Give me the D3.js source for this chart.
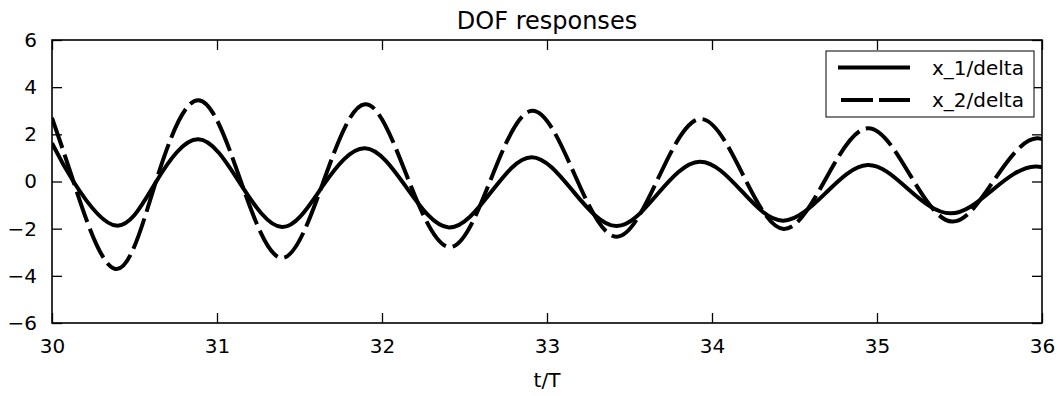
<!DOCTYPE html>
<html>
<head>
<meta charset="utf-8">
<script src="https://cdn.jsdelivr.net/npm/d3@7"></script>
<style>
body { margin: 0; background: #fff; }
text { font-family: "DejaVu Sans", sans-serif; fill: #000; }
</style>
</head>
<body>
<div id="main_div"></div>
<script>
// values (t/T, response); the last point lies just past the clipped edge
var t_x1 = [30.00, 30.13, 30.39, 30.63, 30.887, 31.14, 31.395, 31.64, 31.897, 32.15, 32.405, 32.66,
    32.907, 33.16, 33.42, 33.67, 33.925, 34.18, 34.43, 34.69, 34.943, 35.19, 35.445, 35.70, 35.96, 36.21];
var x1 = [1.63, 0.00, -1.87, -0.02, 1.79, -0.08, -1.93, -0.20, 1.41, -0.27, -1.95, -0.46,
    1.03, -0.43, -1.89, -0.53, 0.84, -0.41, -1.66, -0.48, 0.70, -0.33, -1.35, -0.36, 0.64, -0.30];

var t_x2 = [30.00, 30.13, 30.385, 30.63, 30.887, 31.14, 31.393, 31.645, 31.897, 32.15, 32.41, 32.66,
    32.91, 33.165, 33.42, 33.675, 33.93, 34.185, 34.435, 34.69, 34.945, 35.20, 35.455, 35.71, 35.97, 36.22];
var x2 = [2.70, 0.00, -3.71, 0.00, 3.45, 0.10, -3.24, 0.00, 3.28, 0.25, -2.78, 0.10,
    3.00, 0.33, -2.34, 0.15, 2.65, 0.32, -2.01, 0.12, 2.26, 0.28, -1.70, 0.06, 1.83, 0.20];

var x_ticks = [30, 31, 32, 33, 34, 35, 36];
var y_ticks = [-6, -4, -2, 0, 2, 4, 6];
var series_names = ["x_1/delta", "x_2/delta"];

var W = 1061, H = 396;
var x_scale = d3.scaleLinear().domain([30, 36]).range([52, 1042]);
var y_scale = d3.scaleLinear().domain([-6, 6]).range([323, 40]);

var svg = d3.select("#main_div").append("svg").attr("width", W).attr("height", H);

svg.append("clipPath").attr("id", "clip").append("rect")
    .attr("x", 52).attr("y", 40).attr("width", 990).attr("height", 283);

var line = d3.line()
    .x(function(d) { return x_scale(d[0]); })
    .y(function(d) { return y_scale(d[1]); })
    .curve(d3.curveNatural);

var g_lines = svg.append("g").attr("clip-path", "url(#clip)");
g_lines.append("path")
    .datum(d3.zip(t_x2, x2))
    .attr("d", line)
    .attr("fill", "none").attr("stroke", "#000").attr("stroke-width", 4)
    .attr("stroke-dasharray", "32,7");
g_lines.append("path")
    .datum(d3.zip(t_x1, x1))
    .attr("d", line)
    .attr("fill", "none").attr("stroke", "#000").attr("stroke-width", 4);

// axes, ticks pointing inward on all four sides
var tick_len = 10;
var g_x = svg.append("g").attr("transform", "translate(0,323)")
    .call(d3.axisBottom(x_scale).tickValues(x_ticks).tickSizeInner(-tick_len).tickSizeOuter(0).tickPadding(16)
        .tickFormat(d3.format("d")));
var g_xt = svg.append("g").attr("transform", "translate(0,40)")
    .call(d3.axisTop(x_scale).tickValues(x_ticks).tickSizeInner(-tick_len).tickSizeOuter(0).tickFormat(""));
var g_y = svg.append("g").attr("transform", "translate(52,0)")
    .call(d3.axisLeft(y_scale).tickValues(y_ticks).tickSizeInner(-tick_len).tickSizeOuter(0).tickPadding(15)
        .tickFormat(function(d) { return d < 0 ? "\u2212" + Math.abs(d) : d; }));
var g_yr = svg.append("g").attr("transform", "translate(1042,0)")
    .call(d3.axisRight(y_scale).tickValues(y_ticks).tickSizeInner(-tick_len).tickSizeOuter(0).tickFormat(""));

[g_x, g_xt, g_y, g_yr].forEach(function(g) {
    g.select(".domain").remove();
    g.selectAll(".tick line").attr("stroke", "#000").attr("stroke-width", 1.3);
    g.selectAll(".tick text").style("font-size", "20px").attr("fill", "#000");
});

svg.append("rect").attr("x", 52).attr("y", 40).attr("width", 990).attr("height", 283)
    .attr("fill", "none").attr("stroke", "#000").attr("stroke-width", 1.6);

svg.append("text").attr("x", 547).attr("y", 29).attr("text-anchor", "middle")
    .style("font-size", "24px").text("DOF responses");
svg.append("text").attr("x", 547).attr("y", 387).attr("text-anchor", "middle")
    .style("font-size", "20px").text("t/T");

// legend
var lg = svg.append("g");
lg.append("rect").attr("x", 826).attr("y", 51).attr("width", 208).attr("height", 66)
    .attr("fill", "#fff").attr("stroke", "#000").attr("stroke-width", 1);
var rows = lg.selectAll("g.row").data(series_names).enter().append("g").attr("class", "row")
    .attr("transform", function(d, i) { return "translate(0," + (67.5 + i * 32.5) + ")"; });
rows.append("line").attr("x1", 838).attr("x2", 910).attr("y1", 0).attr("y2", 0)
    .attr("stroke", "#000").attr("stroke-width", 4)
    .attr("stroke-dasharray", function(d, i) { return i === 1 ? "0,3,32,6,32" : null; });
rows.append("text").attr("x", 932).attr("y", 7).style("font-size", "20px")
    .text(function(d) { return d; });
</script>
</body>
</html>
